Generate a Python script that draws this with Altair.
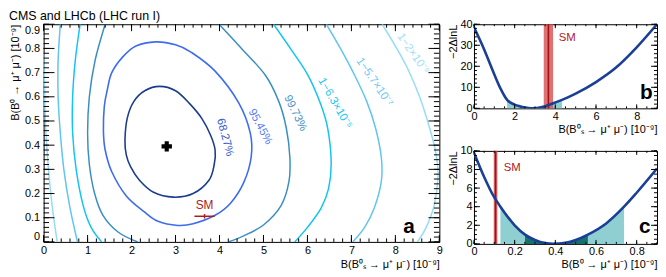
import altair as alt
import pandas as pd

FONT = "Liberation Sans"

# ---------------- panel a : 2D likelihood contours ----------------
C68_X = [1.85, 1.90, 2.05, 2.30, 2.64, 3.00, 3.31, 3.60, 3.80, 3.90, 3.88, 3.76, 3.40, 2.95, 2.50, 2.18, 1.98, 1.88]
C68_Y = [0.42, 0.51, 0.58, 0.625, 0.643, 0.625, 0.574, 0.51, 0.44, 0.38, 0.32, 0.255, 0.20, 0.185, 0.205, 0.255, 0.31, 0.36]

C95_X = [1.36, 1.38, 1.45, 1.55, 1.80, 2.10, 2.55, 3.00, 3.35, 3.90, 4.44, 4.70, 4.72, 4.55, 4.25, 3.90, 3.40, 3.05, 2.60, 2.30, 1.88, 1.55, 1.40]
C95_Y = [0.46, 0.56, 0.63, 0.70, 0.765, 0.81, 0.827, 0.815, 0.785, 0.706, 0.574, 0.45, 0.35, 0.245, 0.16, 0.11, 0.075, 0.068, 0.085, 0.123, 0.19, 0.29, 0.38]

C997_LX = [1.40, 1.17, 1.04, 1.00, 1.04, 1.16, 1.35, 1.70, 2.14]
C997_LY = [0.90, 0.75, 0.60, 0.45, 0.32, 0.20, 0.11, 0.04, 0.0]
C997_RX = [3.99, 4.50, 5.04, 5.35, 5.52, 5.60, 5.58, 5.40, 5.00, 4.55, 4.20]
C997_RY = [0.90, 0.80, 0.69, 0.58, 0.47, 0.35, 0.25, 0.15, 0.07, 0.025, 0.0]

C63_LX = [0.83, 0.72, 0.66, 0.66, 0.74, 0.90, 1.08, 1.32]
C63_LY = [0.90, 0.75, 0.60, 0.45, 0.30, 0.15, 0.06, 0.0]
C63_RX = [5.23, 5.65, 6.01, 6.30, 6.46, 6.54, 6.48, 6.31, 6.00, 5.71]
C63_RY = [0.90, 0.79, 0.69, 0.57, 0.47, 0.33, 0.22, 0.14, 0.06, 0.0]

C57_LX = [0.38, 0.33, 0.33, 0.38, 0.46, 0.59, 0.77]
C57_LY = [0.90, 0.75, 0.60, 0.45, 0.30, 0.15, 0.0]
C57_RX = [6.43, 6.75, 7.07, 7.35, 7.55, 7.68, 7.68, 7.52, 7.30, 7.03]
C57_RY = [0.90, 0.80, 0.69, 0.58, 0.47, 0.35, 0.25, 0.14, 0.06, 0.0]

C2_LX = [0.0, 0.02, 0.04, 0.07, 0.12, 0.20, 0.31]
C2_LY = [0.78, 0.65, 0.50, 0.40, 0.28, 0.14, 0.0]
C2_RX = [7.70, 8.00, 8.27, 8.55, 8.78, 8.93, 8.97, 8.88, 8.70, 8.50]
C2_RY = [0.90, 0.81, 0.72, 0.60, 0.47, 0.36, 0.27, 0.15, 0.06, 0.0]

COL68, COL95, COL997, COL63, COL57, COL2 = "#1c3d8f", "#3d6cf0", "#3a8ec4", "#12c4f2", "#62c4f0", "#96dcf8"

LABEL_TEXT = ["68.27%", "95.45%", "99.73%", "1−6.3×10⁻⁵", "1−5.7×10⁻⁷", "1−2×10⁻⁹"]
LABEL_X = [4.12, 4.92, 5.72, 6.62, 7.52, 8.40]
LABEL_Y = [0.432, 0.476, 0.532, 0.573, 0.66, 0.777]
LABEL_ANGLE = [75, 62, 64, 60, 56, 55]
LABEL_COL = ["#3558c8", "#5a7ef0", "#4a92c8", "#22c6f2", "#6cc8f2", "#9ee0fa"]

BEST_X, BEST_Y = [2.8], [0.395]
SM_BS, SM_BS_LO, SM_BS_HI = 3.66, 3.43, 3.89
SM_BD, SM_BD_LO, SM_BD_HI = 0.106, 0.097, 0.115

A_XLAB = [0, 1, 2, 3, 4, 5, 6, 7, 8, 9]
A_YLAB = [0, 0.1, 0.2, 0.3, 0.4, 0.5, 0.6, 0.7, 0.8, 0.9]

# ---------------- panel b : profile in Bs ----------------
B_X = [0, 0.5, 0.9, 1.3, 1.63, 2.0, 2.25, 2.5, 2.8, 3.1, 3.5, 4.0, 4.33, 5.0, 6.0, 7.0, 8.0, 9.0]
B_Y = [38.5, 28.0, 18.5, 9.5, 4.0, 1.8, 1.0, 0.4, 0.0, 0.2, 1.0, 2.8, 4.0, 7.0, 12.5, 19.5, 29.0, 40.0]
B_1S = [2.25, 3.5]
B_2S = [1.63, 4.33]
B_XLAB = [0, 2, 4, 6, 8]
B_YLAB = [0, 10, 20, 30, 40]

# ---------------- panel c : profile in B0 ----------------
C_X = [0, 0.05, 0.1, 0.13, 0.2, 0.251, 0.3, 0.35, 0.39, 0.45, 0.5, 0.56, 0.65, 0.738, 0.8, 0.9]
C_Y = [9.8, 7.2, 5.0, 4.0, 2.0, 1.0, 0.42, 0.08, 0.0, 0.12, 0.42, 1.0, 2.2, 4.0, 5.5, 8.1]
C_1S = [0.251, 0.56]
C_2S = [0.13, 0.738]
C_XLAB = [0, 0.2, 0.4, 0.6, 0.8]
C_YLAB = [0, 2, 4, 6, 8, 10]

TEAL_L, TEAL_D = "#8fcfd1", "#17706b"
RED_BAND, RED_LINE = "#d9585a", "#9e1216"
CURVE = "#1a3f96"


def frange(a, b, step):
    out, k = [], 0
    while a + k * step <= b + 1e-9:
        out.append(round(a + k * step, 6))
        k += 1
    return out


def tick_layers(X, Y, W, H, xmaj, xmin, ymaj, ymin, xl, yl):
    layers = []
    for vals, L in ((xmaj, xl[0]), (xmin, xl[1])):
        d = pd.DataFrame({"t": vals})
        base = alt.Chart(d).mark_rule(color="black", strokeWidth=1)
        layers.append(base.encode(x=X("t"), y=alt.value(H), y2=alt.value(H - L)))
        layers.append(base.encode(x=X("t"), y=alt.value(0), y2=alt.value(L)))
    for vals, L in ((ymaj, yl[0]), (ymin, yl[1])):
        d = pd.DataFrame({"t": vals})
        base = alt.Chart(d).mark_rule(color="black", strokeWidth=1)
        layers.append(base.encode(y=Y("t"), x=alt.value(0), x2=alt.value(L)))
        layers.append(base.encode(y=Y("t"), x=alt.value(W), x2=alt.value(W - L)))
    return layers


# ---------- build panel a ----------
WA, HA = 400, 220
xs_a = alt.Scale(domain=[0, 9], nice=False, zero=False)
ys_a = alt.Scale(domain=[0, 0.9], nice=False, zero=False)
x_axis_a = alt.Axis(values=A_XLAB, format="d", title="B(B⁰ₛ → μ⁺ μ⁻) [10⁻⁹]", titleAnchor="end",
                    labelFlush=False, labelPadding=3, titlePadding=3, domain=False, ticks=False, grid=False)
y_axis_a = alt.Axis(values=A_YLAB, format=".1~f", title="B(B⁰ → μ⁺ μ⁻) [10⁻⁹]", titleAnchor="end",
                    labelFlush=True, labelFlushOffset=0, labelPadding=4, titlePadding=4,
                    domain=False, ticks=False, grid=False)


def XA(f):
    return alt.X(f + ":Q", scale=xs_a, axis=x_axis_a)


def YA(f):
    return alt.Y(f + ":Q", scale=ys_a, axis=y_axis_a)


rows = []
def add(seg, xsv, ysv, col, closed):
    for i, (xv, yv) in enumerate(zip(xsv, ysv)):
        rows.append({"x": xv, "y": yv, "i": i, "seg": seg, "col": col, "closed": closed})

add("c68", C68_X, C68_Y, COL68, True)
add("c95", C95_X, C95_Y, COL95, True)
add("c997l", C997_LX, C997_LY, COL997, False)
add("c997r", C997_RX, C997_RY, COL997, False)
add("c63l", C63_LX, C63_LY, COL63, False)
add("c63r", C63_RX, C63_RY, COL63, False)
add("c57l", C57_LX, C57_LY, COL57, False)
add("c57r", C57_RX, C57_RY, COL57, False)
add("c2l", C2_LX, C2_LY, COL2, False)
add("c2r", C2_RX, C2_RY, COL2, False)
cont = pd.DataFrame(rows)

closed = alt.Chart(cont[cont.closed]).mark_line(interpolate="cardinal-closed", strokeWidth=1.6, clip=True).encode(
    x=XA("x"), y=YA("y"), detail="seg:N", order="i:Q", color=alt.Color("col:N", scale=None))
openl = alt.Chart(cont[~cont.closed]).mark_line(interpolate="cardinal", strokeWidth=1.5, clip=True).encode(
    x=XA("x"), y=YA("y"), detail="seg:N", order="i:Q", color=alt.Color("col:N", scale=None))

lab = pd.DataFrame({"x": LABEL_X, "y": LABEL_Y, "t": LABEL_TEXT, "a": LABEL_ANGLE, "c": LABEL_COL})
labels = alt.Chart(lab).mark_text(font=FONT, fontSize=11.5).encode(
    x=XA("x"), y=YA("y"), text="t:N", angle=alt.Angle("a:Q", scale=None), color=alt.Color("c:N", scale=None))

best = alt.Chart(pd.DataFrame({"x": BEST_X, "y": BEST_Y})).mark_point(
    shape="cross", filled=True, size=110, color="black", opacity=1).encode(x=XA("x"), y=YA("y"))

sm_df = pd.DataFrame({"x": [SM_BS], "xl": [SM_BS_LO], "xh": [SM_BS_HI], "y": [SM_BD], "yl": [SM_BD_LO],
                      "yh": [SM_BD_HI], "t": ["SM"], "ty": [SM_BD + 0.045]})
sm_h = alt.Chart(sm_df).mark_rule(color="#b01a1a", strokeWidth=1.5).encode(x=XA("xl"), x2="xh:Q", y=YA("y"))
sm_v = alt.Chart(sm_df).mark_rule(color="#b01a1a", strokeWidth=1.5).encode(x=XA("x"), y=YA("yl"), y2="yh:Q")
sm_t = alt.Chart(sm_df).mark_text(font=FONT, fontSize=12, color="#b01a1a").encode(x=XA("x"), y=YA("ty"), text="t:N")

pa = alt.Chart(pd.DataFrame({"x": [8.31], "y": [0.035], "t": ["a"]})).mark_text(
    font=FONT, fontSize=21, fontWeight="bold", baseline="alphabetic", color="black").encode(
    x=XA("x"), y=YA("y"), text="t:N")

ticks_a = tick_layers(XA, YA, WA, HA, A_XLAB, frange(0, 9, 0.2), A_YLAB, frange(0, 0.9, 0.02), (7, 3.5), (11, 5.5))

panel_a = alt.layer(closed, openl, labels, best, sm_h, sm_v, sm_t, pa, *ticks_a).properties(
    width=WA, height=HA,
    title=alt.TitleParams("CMS and LHCb (LHC run I)", anchor="start", frame="group", dx=-35, fontSize=12.5,
                          fontWeight="normal", font=FONT, color="black", offset=1))


# ---------- profile panels ----------
def profile(px, py, s1, s2, sm, sml, smh, xdom, ydom, xlab, ylab, xfmt, xtitle, smtx, smty, plab, plx, ply,
            W, H, xmin, ymin):
    xs = alt.Scale(domain=xdom, nice=False, zero=False)
    ys = alt.Scale(domain=ydom, nice=False, zero=False)
    xa = alt.Axis(values=xlab, format=xfmt, title=xtitle, titleAnchor="end", labelFlush=False,
                  labelPadding=2, titlePadding=2, domain=False, ticks=False, grid=False)
    ya = alt.Axis(values=ylab, format="d", title="−2ΔlnL", titleAnchor="end", labelFlush=False,
                  labelPadding=2, titlePadding=1, domain=False, ticks=False, grid=False)

    def X(f):
        return alt.X(f + ":Q", scale=xs, axis=xa)

    def Y(f):
        return alt.Y(f + ":Q", scale=ys, axis=ya)

    d = pd.DataFrame({"x": px, "y": py})
    a2 = alt.Chart(d).mark_area(color=TEAL_L, interpolate="monotone", opacity=1).encode(
        x=X("x"), y=Y("y")).transform_filter((alt.datum.x >= s2[0] - 1e-9) & (alt.datum.x <= s2[1] + 1e-9))
    a1 = alt.Chart(d).mark_area(color=TEAL_D, interpolate="monotone", opacity=1).encode(
        x=X("x"), y=Y("y")).transform_filter((alt.datum.x >= s1[0] - 1e-9) & (alt.datum.x <= s1[1] + 1e-9))
    smd = pd.DataFrame({"x": [sm], "xl": [sml], "xh": [smh], "tx": [smtx], "ty": [smty], "t": ["SM"]})
    band = alt.Chart(smd).mark_rect(color=RED_BAND, opacity=0.85).encode(
        x=X("xl"), x2="xh:Q", y=alt.value(0), y2=alt.value(H))
    smline = alt.Chart(smd).mark_rule(color=RED_LINE, strokeWidth=1.6).encode(
        x=X("x"), y=alt.value(0), y2=alt.value(H))
    smt = alt.Chart(smd).mark_text(font=FONT, fontSize=11.5, color="#b01a1a", align="left").encode(
        x=X("tx"), y=Y("ty"), text="t:N")
    curve = alt.Chart(d).mark_line(color=CURVE, strokeWidth=2.6, interpolate="monotone", clip=True).encode(
        x=X("x"), y=Y("y"))
    pl = alt.Chart(pd.DataFrame({"x": [plx], "y": [ply], "t": [plab]})).mark_text(
        font=FONT, fontSize=21, fontWeight="bold", baseline="alphabetic", color="black").encode(
        x=X("x"), y=Y("y"), text="t:N")
    tk = tick_layers(X, Y, W, H, xlab, xmin, ylab, ymin, (4, 2), (6, 3))
    return alt.layer(a2, a1, band, smline, curve, smt, pl, *tk).properties(width=W, height=H)


panel_b = profile(B_X, B_Y, B_1S, B_2S, SM_BS, SM_BS_LO, SM_BS_HI, [0, 9], [0, 40], B_XLAB, B_YLAB, "d",
                  "B(B⁰ₛ → μ⁺ μ⁻) [10⁻⁹]", 4.17, 33.5, "b", 8.48, 4.4, 185, 85,
                  frange(0, 9, 0.5), frange(0, 40, 2))
panel_c = profile(C_X, C_Y, C_1S, C_2S, SM_BD, SM_BD_LO, SM_BD_HI, [0, 0.9], [0, 10], C_XLAB, C_YLAB, "~g",
                  "B(B⁰ → μ⁺ μ⁻) [10⁻⁹]", 0.146, 8.2, "c", 0.84, 1.15, 185, 94,
                  frange(0, 0.9, 0.05), frange(0, 10, 0.5))

chart = alt.hconcat(panel_a, alt.vconcat(panel_b, panel_c, spacing=9), spacing=4).properties(
    padding=0
).configure_view(stroke="black", strokeWidth=1).configure_axis(
    labelFont=FONT, labelFontSize=11, labelColor="black", titleFont=FONT, titleFontSize=11,
    titleFontWeight="normal", titleColor="black")

chart.save("out.html", embed_options={"renderer": "svg", "actions": False})
